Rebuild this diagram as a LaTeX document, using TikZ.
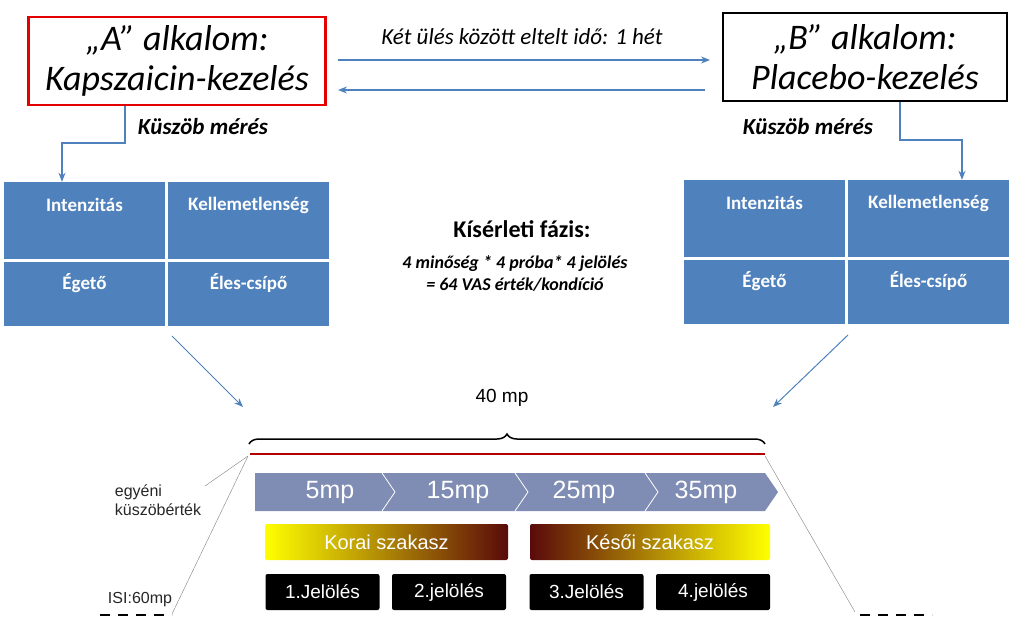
\documentclass[tikz,border=0pt]{standalone}
\usepackage{fontspec}
\setmainfont{Carlito}
\newfontfamily\arialf{Liberation Sans}
\usetikzlibrary{positioning,decorations.pathreplacing,arrows.meta}
\definecolor{boxblue}{HTML}{4F81BD}
\definecolor{chevgray}{HTML}{7F8CB4}
\definecolor{darkred}{HTML}{5A0A0A}
\definecolor{hotred}{HTML}{F02010}
\begin{document}
\begin{tikzpicture}[x=1pt,y=-1pt,
    session/.style={rectangle, draw, line width=2.5pt, minimum width=297pt, minimum height=88pt, align=center, font=\fontsize{36}{40}\selectfont\itshape},
    cell/.style={rectangle, fill=boxblue, minimum width=161pt, text=white, inner sep=0pt},
    celltext/.style={text=white, font=\bfseries\fontsize{19}{22}\selectfont},
    arrow/.style={-{Stealth[length=9pt,width=7pt]}, draw=boxblue, line width=1.3pt},
    markbox/.style={rectangle, fill=black, rounded corners=2pt, minimum width=114pt, minimum height=36pt, text=white, font=\arialf\fontsize{19}{21}\selectfont},
    phase/.style={rectangle, rounded corners=2pt, minimum width=242pt, minimum height=36pt, text=white, font=\arialf\fontsize{20}{22}\selectfont},
    note/.style={font=\arialf\fontsize{16}{19}\selectfont, align=left}
]
\useasboundingbox (0,0) rectangle (1019,619);

% Sessions
\node[session, draw=red!90!black] (sA) at (177,61) {„A” alkalom:\\Kapszaicin-kezelés};
\node[session, draw=black, minimum width=284pt] (sB) at (865,57) {„B” alkalom:\\Placebo-kezelés};
\node[font=\itshape\fontsize{23}{26}\selectfont] (gap) at (522,37) {Két ülés között eltelt idő: 1 hét};
\coordinate (aR) at (338,60);
\coordinate (bL) at (710,60);
\coordinate (bL2) at (705,90);
\coordinate (aR2) at (338,90);
\draw[arrow] (aR) -- (bL);
\draw[arrow] (bL2) -- (aR2);

% Threshold measurements
\node[font=\bfseries\itshape\fontsize{23}{25}\selectfont] (kA) at (203,127) {Küszöb mérés};
\node[font=\bfseries\itshape\fontsize{23}{25}\selectfont] (kB) at (808,127) {Küszöb mérés};

% Quality grids
\node[cell, minimum height=77pt] (a1) at (84.5,220.5) {};
\node[cell, minimum height=77pt] (a2) at (248.5,220.5) {};
\node[cell, minimum height=64pt] (a3) at (84.5,294) {};
\node[cell, minimum height=64pt] (a4) at (248.5,294) {};
\node[cell, minimum height=77pt] (b1) at (764.5,218.5) {};
\node[cell, minimum height=77pt] (b2) at (928.5,218.5) {};
\node[cell, minimum height=64pt] (b3) at (764.5,292) {};
\node[cell, minimum height=64pt] (b4) at (928.5,292) {};
\foreach \g/\yt/\yb in {a/205/283,b/203/281}{
  \node[celltext] at (\g1.center |- 0,\yt) {Intenzitás};
  \node[celltext] at (\g2.center |- 0,\yt) {Kellemetlenség};
  \node[celltext] at (\g3.center |- 0,\yb) {Égető};
  \node[celltext] at (\g4.center |- 0,\yb) {Éles-csípő};
}
\draw[arrow] (sA.south -| 125,0) |- (62,143) -- (a1.north -| 62,0);
\draw[arrow] (sB.south -| 900,0) |- (962,140) -- (b2.north -| 962,0);

% Experimental phase
\node[font=\bfseries\fontsize{24}{27}\selectfont] (exp) at (522,229) {Kísérleti fázis:};
\node[font=\bfseries\itshape\fontsize{18}{22}\selectfont, align=center] (calc) at (515,273) {4 minőség * 4 próba* 4 jelölés\\= 64 VAS érték/kondíció};
\coordinate (tL) at (243,407);
\coordinate (tR) at (773,407);
\draw[arrow, line width=1pt] (172,336) -- (tL);
\draw[arrow, line width=1pt] (848,335) -- (tR);

% Trial timeline
\node[font=\arialf\fontsize{19}{21}\selectfont] (dur) at (502,398) {40 mp};
\draw[decorate, decoration={brace, amplitude=10pt}, line width=1.5pt] (249,444) -- (765,444);
\draw[red!70!black, line width=2.5pt] (250,454) -- (765,454);
\fill[chevgray] (255,473) -- (765,473) -- (778,492) -- (765,511) -- (255,511) -- cycle;
\foreach \x in {382,515,645}{
  \draw[white, line width=0.8pt] (\x,473) -- (\x+13,492) -- (\x,511);
}
\foreach \x/\t in {330/5mp,458/15mp,584/25mp,706/35mp}{
  \node[text=white, font=\arialf\fontsize{25}{27}\selectfont] at (\x,492) {\t};
}
\shade[left color=yellow, middle color=hotred, right color=darkred, rounded corners=2pt] (265,524) rectangle (508,560);
\shade[left color=darkred, middle color=hotred, right color=yellow, rounded corners=2pt] (530,524) rectangle (770,560);
\node[phase] (early) at (386.5,542) {Korai szakasz};
\node[phase] (late) at (650,542) {Késői szakasz};
\node[markbox] (m1) at (322.5,592) {1.Jelölés};
\node[markbox] (m2) at (449,592) {2.jelölés};
\node[markbox] (m3) at (586.5,592) {3.Jelölés};
\node[markbox] (m4) at (713,592) {4.jelölés};

% Threshold and ISI
\node[note, gray!30!black] (thr) at (158,500) {egyéni\\küszöbérték};
\node[note, gray!30!black] (isi) at (140,600) {ISI:60mp};
\draw[gray] (205,486) -- (248,456);
\draw[gray] (248,456) -- (172,614);
\draw[gray] (765,456) -- (855,612);
\draw[black, line width=2pt, dash pattern=on 10pt off 8pt] (100,615) -- (172,615);
\draw[black, line width=2pt, dash pattern=on 10pt off 8pt] (860,615) -- (932,615);
\end{tikzpicture}
\end{document}
